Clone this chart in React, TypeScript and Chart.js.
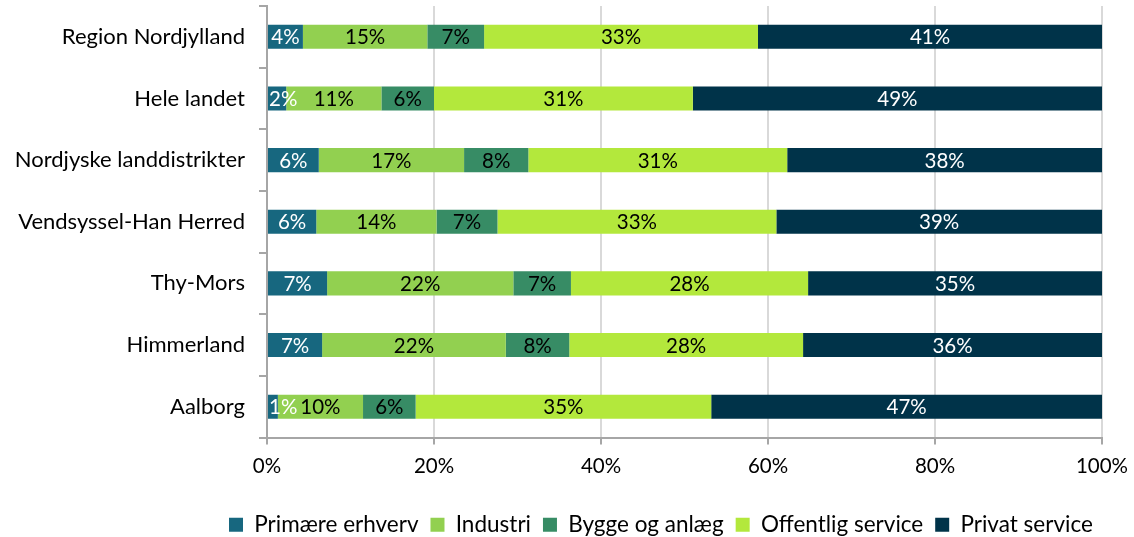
import React, { useEffect, useRef } from "react";
import { Chart, registerables } from "chart.js";

Chart.register(...registerables);

const categories = [
  "Region Nordjylland",
  "Hele landet",
  "Nordjyske landdistrikter",
  "Vendsyssel-Han Herred",
  "Thy-Mors",
  "Himmerland",
  "Aalborg",
];

const seriesNames = ["Primære erhverv", "Industri", "Bygge og anlæg", "Offentlig service", "Privat service"];
const primaere = [4.3, 2.3, 6.2, 5.9, 7.2, 6.6, 1.3];
const industri = [14.9, 11.4, 17.4, 14.4, 22.3, 22.0, 10.2];
const bygge = [6.8, 6.3, 7.7, 7.3, 6.9, 7.6, 6.3];
const offentlig = [32.8, 31.0, 31.0, 33.4, 28.4, 28.0, 35.4];
const privat = [41.2, 49.0, 37.7, 39.0, 35.2, 35.8, 46.8];

const colors = ["#17677f", "#92d050", "#378c65", "#b3e83c", "#003349"];
const labelColors = ["#ffffff", "#000000", "#000000", "#000000", "#ffffff"];

const xTicks = [0, 20, 40, 60, 80, 100];

const FONT = "Lato, 'Open Sans', sans-serif";
const AXIS_X = 267;
const LEGEND_FIRST_X = 229;
const LEGEND_PAD = 12;

const labelPlugin = {
  id: "segLabels",
  afterDatasetsDraw(chart: any) {
    const ctx = chart.ctx;
    ctx.save();
    ctx.font = `20.5px ${FONT}`;
    ctx.textAlign = "center";
    ctx.textBaseline = "middle";
    chart.data.datasets.forEach((ds: any, i: number) => {
      const meta = chart.getDatasetMeta(i);
      meta.data.forEach((bar: any, j: number) => {
        const v = ds.data[j];
        const txt = Math.round(v) + "%";
        const w = ctx.measureText(txt).width;
        const lo = Math.min(bar.x, bar.base);
        let x = (bar.x + bar.base) / 2;
        x = Math.max(x, lo + w / 2 + 1);
        ctx.fillStyle = labelColors[i];
        ctx.fillText(txt, x, bar.y + 1);
      });
    });
    ctx.restore();
  },
};

const legendShift = {
  id: "legendShift",
  afterLayout(chart: any) {
    const lg = chart.legend;
    if (lg) {
      lg.left = LEGEND_FIRST_X - LEGEND_PAD;
      lg.right = chart.width;
      lg.width = lg.right - lg.left;
      lg.top += 3;
      lg.bottom += 3;
    }
  },
};

export default function App() {
  const ref = useRef<HTMLCanvasElement>(null);
  useEffect(() => {
    const vals = [primaere, industri, bygge, offentlig, privat];
    const chart = new Chart(ref.current!, {
      type: "bar",
      data: {
        labels: categories,
        datasets: seriesNames.map((n, i) => ({
          label: n,
          data: vals[i],
          backgroundColor: colors[i],
          borderWidth: 0,
          barPercentage: 0.39,
          categoryPercentage: 1,
        })),
      },
      options: {
        indexAxis: "y",
        animation: false,
        responsive: true,
        maintainAspectRatio: false,
        layout: { padding: { top: 6, right: 32, left: 0, bottom: -6 } },
        plugins: {
          legend: {
            position: "bottom",
            align: "start",
            labels: {
              font: { family: FONT, size: 22.5 },
              color: "#000",
              boxWidth: 14,
              boxHeight: 14,
              padding: LEGEND_PAD,
            },
          },
          tooltip: { enabled: false },
        },
        scales: {
          x: {
            stacked: true,
            min: 0,
            max: 100,
            afterBuildTicks: (s: any) => {
              s.ticks = xTicks.map((v) => ({ value: v }));
            },
            afterFit: (s: any) => {
              s.height = 61;
              s.paddingLeft = 0;
              s.paddingRight = 0;
            },
            ticks: {
              callback: (v: any) => v + "%",
              font: { family: FONT, size: 20.5 },
              color: "#000",
              padding: 10,
              maxRotation: 0,
            },
            grid: {
              color: "#d9d9d9",
              lineWidth: 2,
              tickLength: 7,
              tickColor: "#a6a6a6",
              tickWidth: 2,
            },
            border: { color: "#a6a6a6", width: 2 },
          },
          y: {
            stacked: true,
            afterFit: (s: any) => {
              s.width = AXIS_X;
              s.paddingTop = 0;
              s.paddingBottom = 0;
            },
            ticks: {
              font: { family: FONT, size: 22 },
              color: "#000",
              padding: 14,
            },
            grid: {
              offset: true,
              drawOnChartArea: false,
              tickLength: 8,
              color: "#a6a6a6",
              lineWidth: 2,
            },
            border: { color: "#a6a6a6", width: 2 },
          },
        },
      },
      plugins: [labelPlugin, legendShift],
    });
    return () => chart.destroy();
  }, []);
  return (
    <div style={{ position: "fixed", left: 0, top: 0, width: 1134, height: 537, background: "#fff" }}>
      <canvas ref={ref} />
    </div>
  );
}
